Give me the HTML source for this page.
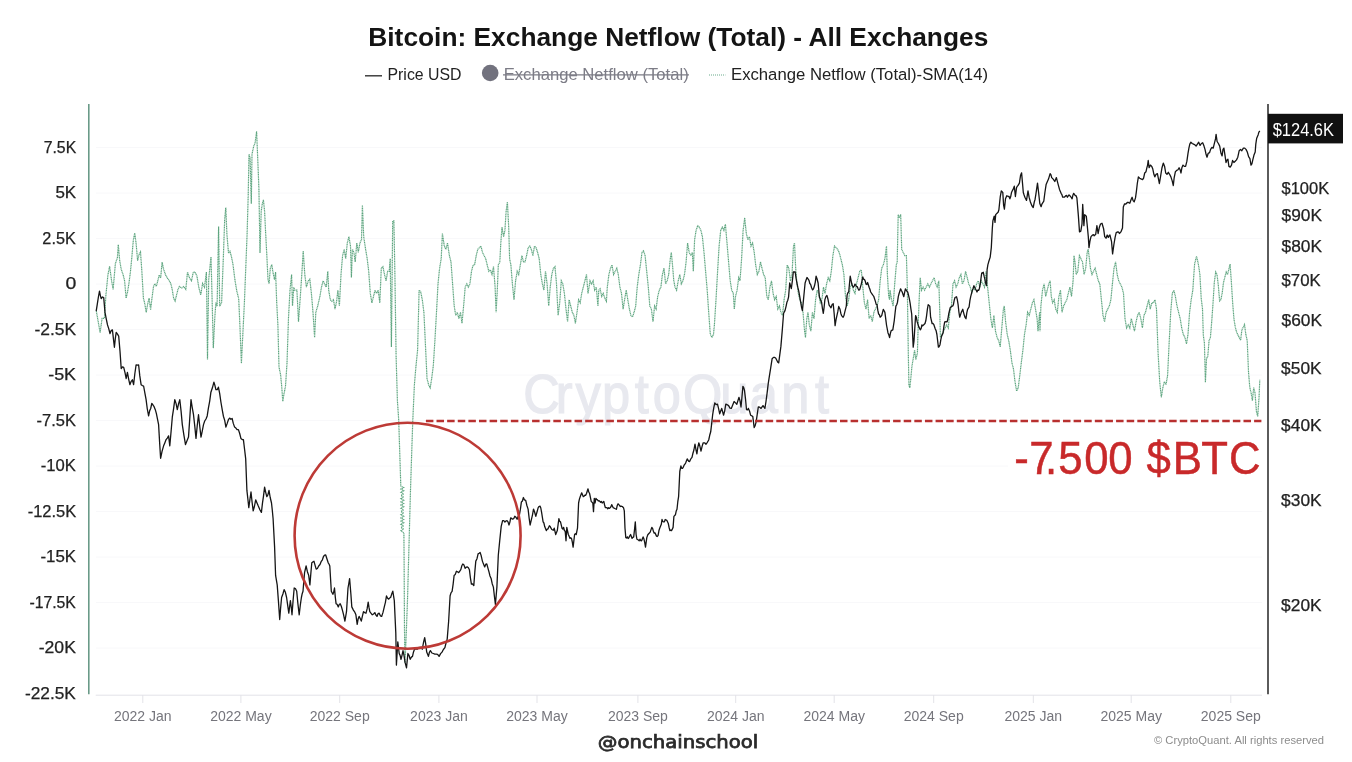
<!DOCTYPE html>
<html><head><meta charset="utf-8"><style>
html,body{margin:0;padding:0;background:#fff;width:1352px;height:762px;overflow:hidden}
svg{display:block;filter:blur(0.4px)}
text{font-family:"Liberation Sans",Arial,sans-serif}
.ax{font-size:16px;fill:#222;stroke:#222;stroke-width:0.25px}
.xl{font-size:14px;fill:#75757c}
</style></head><body>
<svg width="1352" height="762" viewBox="0 0 1352 762">
<rect width="1352" height="762" fill="#fff"/>
<text x="368.3" y="46.1" font-size="25" font-weight="bold" fill="#141414" textLength="620" lengthAdjust="spacingAndGlyphs">Bitcoin: Exchange Netflow (Total) - All Exchanges</text>
<line x1="365" y1="75.8" x2="382" y2="75.8" stroke="#333" stroke-width="1.4"/>
<text x="387.5" y="80.1" font-size="16.5" fill="#222" textLength="74" lengthAdjust="spacingAndGlyphs">Price USD</text>
<circle cx="490.2" cy="73" r="8.3" fill="#72727e"/>
<text x="503.7" y="80" font-size="16.5" fill="#7c7c86" textLength="185" lengthAdjust="spacingAndGlyphs">Exchange Netflow (Total)</text>
<line x1="503" y1="74.8" x2="689" y2="74.8" stroke="#7c7c86" stroke-width="1.2"/>
<line x1="709" y1="75" x2="725.4" y2="75" stroke="#9cc7b2" stroke-width="1.3" stroke-dasharray="1 1"/>
<text x="731" y="80.2" font-size="16.8" fill="#222" textLength="257" lengthAdjust="spacingAndGlyphs">Exchange Netflow (Total)-SMA(14)</text>
<line x1="96" y1="147.5" x2="1262" y2="147.5" stroke="#f8f8fa" stroke-width="1"/>
<line x1="96" y1="193.0" x2="1262" y2="193.0" stroke="#f8f8fa" stroke-width="1"/>
<line x1="96" y1="238.5" x2="1262" y2="238.5" stroke="#f8f8fa" stroke-width="1"/>
<line x1="96" y1="284.0" x2="1262" y2="284.0" stroke="#f8f8fa" stroke-width="1"/>
<line x1="96" y1="329.5" x2="1262" y2="329.5" stroke="#f8f8fa" stroke-width="1"/>
<line x1="96" y1="375.1" x2="1262" y2="375.1" stroke="#f8f8fa" stroke-width="1"/>
<line x1="96" y1="420.6" x2="1262" y2="420.6" stroke="#f8f8fa" stroke-width="1"/>
<line x1="96" y1="466.1" x2="1262" y2="466.1" stroke="#f8f8fa" stroke-width="1"/>
<line x1="96" y1="511.6" x2="1262" y2="511.6" stroke="#f8f8fa" stroke-width="1"/>
<line x1="96" y1="557.1" x2="1262" y2="557.1" stroke="#f8f8fa" stroke-width="1"/>
<line x1="96" y1="602.6" x2="1262" y2="602.6" stroke="#f8f8fa" stroke-width="1"/>
<line x1="96" y1="648.1" x2="1262" y2="648.1" stroke="#f8f8fa" stroke-width="1"/>

<text transform="scale(0.92,1)" x="568.84 603.96 625.52 654.28 689.82 709.54 742.29 782.95 814.95 849.07 885.91" y="413.3" font-size="55" fill="#e8e9ef" stroke="#e8e9ef" stroke-width="1.2">CryptoQuant</text>
<line x1="88.8" y1="104" x2="88.8" y2="694.3" stroke="#6a9a88" stroke-width="1.6"/>
<line x1="1268" y1="104" x2="1268" y2="694.3" stroke="#333" stroke-width="1.6"/>
<line x1="95.7" y1="695.2" x2="1262" y2="695.2" stroke="#e3e3e8" stroke-width="1"/>
<text x="43.69" y="152.7" class="ax" textLength="32.49" lengthAdjust="spacingAndGlyphs">7.5K</text>
<text x="55.42" y="198.2" class="ax" textLength="20.77" lengthAdjust="spacingAndGlyphs">5K</text>
<text x="42.38" y="243.7" class="ax" textLength="33.40" lengthAdjust="spacingAndGlyphs">2.5K</text>
<text x="65.64" y="289.2" class="ax" textLength="10.82" lengthAdjust="spacingAndGlyphs">0</text>
<text x="34.53" y="334.7" class="ax" textLength="41.67" lengthAdjust="spacingAndGlyphs">-2.5K</text>
<text x="48.20" y="380.2" class="ax" textLength="27.90" lengthAdjust="spacingAndGlyphs">-5K</text>
<text x="36.57" y="425.8" class="ax" textLength="39.32" lengthAdjust="spacingAndGlyphs">-7.5K</text>
<text x="40.76" y="471.3" class="ax" textLength="35.13" lengthAdjust="spacingAndGlyphs">-10K</text>
<text x="27.67" y="516.8" class="ax" textLength="48.52" lengthAdjust="spacingAndGlyphs">-12.5K</text>
<text x="40.45" y="562.3" class="ax" textLength="35.64" lengthAdjust="spacingAndGlyphs">-15K</text>
<text x="29.40" y="607.8" class="ax" textLength="46.48" lengthAdjust="spacingAndGlyphs">-17.5K</text>
<text x="38.72" y="653.3" class="ax" textLength="37.18" lengthAdjust="spacingAndGlyphs">-20K</text>
<text x="25.03" y="698.8" class="ax" textLength="50.86" lengthAdjust="spacingAndGlyphs">-22.5K</text>
<text x="1281.52" y="193.6" class="ax" textLength="47.66" lengthAdjust="spacingAndGlyphs">$100K</text>
<text x="1281.51" y="220.9" class="ax" textLength="40.48" lengthAdjust="spacingAndGlyphs">$90K</text>
<text x="1281.51" y="251.5" class="ax" textLength="40.48" lengthAdjust="spacingAndGlyphs">$80K</text>
<text x="1281.52" y="286.2" class="ax" textLength="39.17" lengthAdjust="spacingAndGlyphs">$70K</text>
<text x="1281.51" y="326.2" class="ax" textLength="40.48" lengthAdjust="spacingAndGlyphs">$60K</text>
<text x="1281.11" y="373.5" class="ax" textLength="40.48" lengthAdjust="spacingAndGlyphs">$50K</text>
<text x="1281.11" y="431.4" class="ax" textLength="40.48" lengthAdjust="spacingAndGlyphs">$40K</text>
<text x="1281.11" y="506.0" class="ax" textLength="40.48" lengthAdjust="spacingAndGlyphs">$30K</text>
<text x="1281.11" y="611.2" class="ax" textLength="40.48" lengthAdjust="spacingAndGlyphs">$20K</text>
<line x1="142.8" y1="695" x2="142.8" y2="703" stroke="#e3e3e8" stroke-width="1"/>
<text x="142.8" y="720.6" text-anchor="middle" class="xl">2022 Jan</text>
<line x1="240.9" y1="695" x2="240.9" y2="703" stroke="#e3e3e8" stroke-width="1"/>
<text x="240.9" y="720.6" text-anchor="middle" class="xl">2022 May</text>
<line x1="339.7" y1="695" x2="339.7" y2="703" stroke="#e3e3e8" stroke-width="1"/>
<text x="339.7" y="720.6" text-anchor="middle" class="xl">2022 Sep</text>
<line x1="438.9" y1="695" x2="438.9" y2="703" stroke="#e3e3e8" stroke-width="1"/>
<text x="438.9" y="720.6" text-anchor="middle" class="xl">2023 Jan</text>
<line x1="537" y1="695" x2="537" y2="703" stroke="#e3e3e8" stroke-width="1"/>
<text x="537" y="720.6" text-anchor="middle" class="xl">2023 May</text>
<line x1="637.9" y1="695" x2="637.9" y2="703" stroke="#e3e3e8" stroke-width="1"/>
<text x="637.9" y="720.6" text-anchor="middle" class="xl">2023 Sep</text>
<line x1="735.7" y1="695" x2="735.7" y2="703" stroke="#e3e3e8" stroke-width="1"/>
<text x="735.7" y="720.6" text-anchor="middle" class="xl">2024 Jan</text>
<line x1="834.2" y1="695" x2="834.2" y2="703" stroke="#e3e3e8" stroke-width="1"/>
<text x="834.2" y="720.6" text-anchor="middle" class="xl">2024 May</text>
<line x1="933.7" y1="695" x2="933.7" y2="703" stroke="#e3e3e8" stroke-width="1"/>
<text x="933.7" y="720.6" text-anchor="middle" class="xl">2024 Sep</text>
<line x1="1033.3" y1="695" x2="1033.3" y2="703" stroke="#e3e3e8" stroke-width="1"/>
<text x="1033.3" y="720.6" text-anchor="middle" class="xl">2025 Jan</text>
<line x1="1131.2" y1="695" x2="1131.2" y2="703" stroke="#e3e3e8" stroke-width="1"/>
<text x="1131.2" y="720.6" text-anchor="middle" class="xl">2025 May</text>
<line x1="1230.8" y1="695" x2="1230.8" y2="703" stroke="#e3e3e8" stroke-width="1"/>
<text x="1230.8" y="720.6" text-anchor="middle" class="xl">2025 Sep</text>

<path d="M96.3 311.0 L98.1 321.1 L100.1 332.7 L102.1 318.3 L104.4 318.3 L105.9 295.2 L107.9 275.0 L109.6 266.3 L111.6 280.8 L113.1 289.4 L115.4 263.5 L117.4 257.7 L118.3 244.7 L119.7 260.6 L121.2 269.2 L123.2 275.0 L124.6 280.8 L126.1 298.1 L127.5 292.3 L128.9 283.6 L130.4 272.1 L131.8 257.7 L133.3 240.4 L134.7 233.2 L136.1 243.3 L137.6 260.6 L139.0 254.8 L140.5 251.9 L141.9 272.1 L143.4 298.1 L144.8 303.8 L146.2 312.5 L147.7 303.8 L149.1 298.1 L150.6 309.6 L152.0 298.1 L153.5 286.5 L154.9 283.6 L156.3 286.5 L157.8 280.8 L159.2 275.0 L160.7 277.9 L162.1 262.0 L163.6 269.2 L165.6 275.0 L167.3 277.9 L169.3 280.8 L170.8 283.6 L172.2 289.4 L173.6 298.1 L175.1 301.0 L176.5 295.2 L178.0 289.4 L179.4 286.5 L181.7 288.0 L183.7 286.5 L185.8 289.4 L187.5 272.1 L189.5 277.9 L191.5 280.8 L193.3 272.1 L195.0 272.1 L196.9 275.9 L198.8 287.3 L200.7 294.9 L202.6 283.5 L204.5 287.3 L206.4 272.1 L207.5 359.5 L208.7 279.7 L210.2 264.5 L211.0 256.9 L212.1 298.7 L213.3 348.1 L214.8 317.7 L215.9 302.5 L217.1 306.3 L218.6 226.5 L219.7 306.3 L221.6 302.5 L223.5 253.1 L224.7 218.9 L225.8 207.5 L226.9 234.1 L228.5 253.1 L230.0 251.2 L231.5 256.9 L233.0 264.5 L234.9 279.7 L236.8 291.1 L238.7 298.7 L239.9 325.3 L241.4 363.3 L242.9 332.9 L244.4 302.5 L245.6 272.1 L247.1 234.1 L248.2 196.0 L249.0 154.2 L250.1 158.0 L251.3 203.7 L252.0 154.2 L253.6 146.6 L255.1 142.8 L256.6 131.4 L257.7 158.0 L258.9 188.4 L260.0 253.1 L261.2 211.3 L262.3 203.7 L263.4 199.8 L264.6 211.3 L265.7 234.1 L266.9 256.9 L268.0 279.7 L269.1 283.5 L270.3 268.3 L271.8 264.5 L272.9 272.1 L274.5 279.7 L275.6 272.1 L276.7 302.5 L277.9 325.3 L279.0 367.1 L280.6 374.8 L281.7 386.2 L282.8 401.4 L284.0 393.8 L285.5 386.2 L287.0 363.3 L288.5 317.7 L290.0 290.2 L291.6 274.5 L292.5 306.0 L293.8 287.1 L294.7 290.2 L296.9 290.2 L298.5 321.7 L300.1 299.7 L302.0 271.3 L303.2 250.9 L304.8 274.5 L306.4 287.1 L308.3 280.8 L309.8 279.2 L311.4 293.4 L313.0 312.3 L314.6 337.5 L315.8 312.3 L317.7 306.0 L319.9 296.5 L321.5 287.1 L323.1 280.8 L324.6 283.9 L326.2 287.1 L327.8 271.3 L328.7 290.2 L330.3 299.7 L331.9 301.3 L333.5 299.7 L335.0 309.1 L336.6 301.3 L337.9 290.2 L339.4 306.0 L341.0 274.5 L342.6 255.6 L344.2 249.3 L345.7 258.7 L347.3 243.0 L348.9 236.7 L350.5 246.1 L351.4 277.6 L352.4 249.3 L353.9 252.4 L355.2 261.9 L356.8 243.0 L358.3 252.4 L359.9 243.0 L361.5 239.8 L362.4 205.2 L363.7 236.7 L365.6 249.3 L367.2 258.7 L368.7 271.3 L370.3 293.4 L371.9 302.8 L373.5 296.5 L375.0 290.2 L376.6 293.4 L378.2 290.2 L379.8 302.8 L381.3 268.2 L382.9 266.6 L384.5 274.5 L386.1 280.8 L387.6 271.3 L389.2 271.3 L390.2 258.7 L391.4 346.9 L392.7 220.9 L393.9 220.9 L394.9 274.5 L396.1 356.4 L397.4 400.5 L398.7 420.0 L400.3 470.0 L400.8 486.0 L403.7 487.5 L400.9 489.1 L403.7 490.7 L400.9 492.3 L403.7 493.9 L400.9 495.5 L403.7 497.1 L400.9 498.7 L403.7 500.3 L400.9 501.9 L403.7 503.5 L400.9 505.1 L403.7 506.7 L400.9 508.3 L403.7 509.9 L400.9 511.5 L403.7 513.1 L400.9 514.7 L403.7 516.3 L400.9 517.9 L403.7 519.5 L400.9 521.1 L403.7 522.7 L400.9 524.3 L403.7 525.9 L400.9 527.5 L403.7 529.1 L400.9 530.7 L403.9 533.0 L404.1 560.0 L404.5 630.0 L405.0 663.0 L406.0 640.0 L407.5 600.0 L409.0 545.0 L410.5 490.0 L411.8 450.0 L412.8 420.0 L414.4 384.7 L416.0 365.8 L417.6 350.1 L419.1 290.2 L420.7 291.8 L422.3 299.7 L423.9 312.3 L425.4 343.8 L427.0 378.4 L428.6 384.7 L430.2 387.9 L431.7 378.4 L433.3 365.8 L434.9 340.6 L436.5 312.3 L438.0 283.9 L439.6 268.2 L441.2 258.7 L442.4 233.5 L444.3 246.1 L445.9 249.3 L447.5 243.0 L449.4 255.6 L451.0 261.9 L452.6 283.9 L454.2 306.0 L455.7 315.4 L457.3 312.3 L458.9 318.6 L460.5 312.3 L462.0 323.3 L463.6 306.0 L465.2 287.1 L466.8 283.9 L468.3 287.1 L469.9 283.9 L471.5 271.3 L473.1 265.0 L474.6 265.0 L476.2 255.6 L477.8 249.3 L479.4 247.7 L480.9 246.1 L482.5 252.4 L484.1 255.6 L485.7 258.7 L487.2 265.0 L488.8 271.3 L490.4 269.8 L492.0 274.5 L493.5 266.6 L495.1 287.1 L496.1 312.3 L497.3 290.2 L498.3 265.0 L499.8 261.9 L500.8 243.0 L502.0 227.2 L503.6 236.7 L504.9 230.4 L506.1 211.5 L507.4 202.0 L508.7 227.2 L509.6 258.7 L510.9 265.0 L512.4 283.9 L514.0 299.7 L515.6 280.8 L517.2 271.3 L518.7 274.5 L520.3 265.0 L521.9 255.6 L523.5 261.9 L525.0 261.9 L526.6 255.6 L528.2 247.7 L529.8 246.1 L531.3 249.3 L532.9 255.6 L534.5 246.1 L536.1 247.7 L537.6 252.4 L539.2 258.7 L540.8 274.5 L542.4 283.9 L543.9 290.2 L545.5 271.3 L547.1 283.9 L548.7 306.0 L550.2 287.1 L551.8 274.5 L553.4 268.2 L555.0 266.6 L556.5 283.9 L558.1 315.4 L559.7 302.8 L561.3 280.8 L562.8 283.9 L564.4 293.4 L566.0 309.1 L567.6 321.7 L569.1 299.7 L570.7 306.0 L572.3 312.3 L573.9 315.4 L575.4 323.3 L577.0 312.3 L578.6 299.7 L580.2 302.8 L581.7 293.4 L583.3 287.1 L584.9 280.8 L586.5 274.5 L588.0 293.4 L589.6 283.9 L590.0 280.8 L591.6 283.9 L593.1 280.8 L594.7 290.2 L596.3 287.1 L597.9 306.0 L598.8 290.2 L600.1 288.7 L601.7 296.5 L603.2 293.4 L604.8 298.1 L606.4 301.3 L607.3 287.1 L608.9 274.5 L610.5 268.2 L612.0 265.0 L613.6 274.5 L615.2 271.3 L616.8 268.2 L618.3 274.5 L619.9 287.1 L621.5 293.4 L623.1 309.1 L624.6 299.7 L626.2 290.2 L627.8 299.7 L629.4 309.1 L630.9 315.4 L632.5 317.0 L634.1 312.3 L635.7 306.0 L637.2 287.1 L638.8 274.5 L640.4 265.0 L642.0 252.4 L643.5 250.9 L645.1 255.6 L646.7 271.3 L648.3 287.1 L649.8 306.0 L651.4 309.1 L653.0 321.7 L654.6 306.0 L656.1 309.1 L657.7 296.5 L659.3 290.2 L660.9 287.1 L662.4 274.5 L664.0 268.2 L665.6 283.9 L667.2 280.8 L668.7 274.5 L670.3 258.7 L671.3 252.4 L672.5 265.0 L673.8 280.8 L675.0 287.1 L676.6 290.2 L678.2 280.8 L679.8 274.5 L681.3 283.9 L682.9 280.8 L684.5 274.5 L686.1 261.9 L687.6 243.0 L689.2 252.4 L690.8 255.6 L692.4 252.4 L693.3 271.3 L694.6 239.8 L696.1 230.4 L697.7 225.7 L699.3 227.2 L700.9 230.4 L702.4 236.7 L704.0 252.4 L705.6 271.3 L707.2 290.2 L708.7 312.3 L710.3 334.3 L711.9 337.5 L713.5 334.3 L714.4 324.9 L716.0 299.7 L717.6 271.3 L719.1 246.1 L720.7 230.4 L722.3 227.2 L723.9 230.4 L725.4 224.1 L727.0 243.0 L728.6 261.9 L730.2 280.8 L731.7 290.2 L733.3 293.4 L734.3 309.1 L735.5 296.5 L737.1 290.2 L738.7 277.6 L740.0 280.8 L741.6 258.7 L743.1 230.4 L744.7 217.8 L746.3 233.5 L747.9 239.8 L749.4 236.7 L751.0 246.1 L752.6 243.0 L754.2 252.4 L755.7 265.0 L757.3 274.5 L758.9 271.3 L760.5 261.9 L762.0 268.2 L763.6 274.5 L765.2 277.6 L766.8 296.5 L768.3 299.7 L769.9 287.1 L771.5 280.8 L773.1 293.4 L774.6 299.7 L776.2 296.5 L777.8 309.1 L779.4 306.0 L780.9 312.3 L782.5 315.4 L784.1 299.7 L785.7 290.2 L787.2 265.0 L788.8 268.2 L790.4 280.8 L792.0 274.5 L793.5 246.1 L794.5 243.0 L795.7 268.2 L796.7 280.8 L798.3 293.4 L799.8 299.7 L801.4 302.8 L803.0 312.3 L804.6 331.2 L805.5 337.5 L806.8 318.6 L808.0 312.3 L809.3 324.9 L810.9 331.2 L812.4 312.3 L814.0 318.6 L815.6 299.7 L817.2 290.2 L818.7 293.4 L820.3 302.8 L821.9 299.7 L823.5 287.1 L825.0 293.4 L826.6 283.9 L828.2 277.6 L829.8 280.8 L831.3 271.3 L832.9 255.6 L834.5 246.1 L836.1 247.7 L837.6 249.3 L839.2 252.4 L840.8 258.7 L842.4 265.0 L843.9 274.5 L845.5 296.5 L847.1 306.0 L848.7 299.7 L850.2 287.1 L851.8 283.9 L853.4 290.2 L855.0 293.4 L856.5 283.9 L858.1 277.6 L859.7 271.3 L861.3 269.8 L862.8 287.1 L864.4 302.8 L866.0 309.1 L867.6 299.7 L869.1 318.6 L870.7 315.4 L872.3 321.7 L873.9 312.3 L875.4 309.1 L877.0 306.0 L878.6 299.7 L880.2 280.8 L881.7 268.2 L883.3 265.0 L884.9 258.7 L886.5 246.1 L887.4 274.5 L888.7 296.5 L889.6 299.7 L890.0 290.2 L891.6 299.7 L893.1 306.0 L894.7 283.9 L896.3 265.0 L897.2 261.9 L898.2 214.6 L899.4 217.8 L900.7 214.6 L901.7 249.3 L903.2 252.4 L904.8 255.6 L906.4 255.6 L907.3 287.1 L908.3 353.2 L908.9 384.7 L909.8 387.9 L910.8 378.4 L912.0 365.8 L913.6 356.4 L914.6 350.1 L915.8 359.5 L917.4 353.2 L918.3 321.7 L919.3 296.5 L920.2 277.6 L921.5 290.2 L923.1 287.1 L924.6 290.2 L926.2 287.1 L927.8 283.9 L929.4 287.1 L930.9 283.9 L932.5 280.8 L934.1 277.6 L935.7 283.9 L937.2 287.1 L938.8 280.8 L939.8 312.3 L940.4 337.5 L942.0 334.3 L943.5 331.2 L945.1 328.0 L946.7 324.9 L948.3 328.0 L949.8 312.3 L951.4 306.0 L953.0 283.9 L954.6 280.8 L956.1 287.1 L957.7 283.9 L959.3 277.6 L960.9 274.5 L962.4 283.9 L964.0 280.8 L965.6 271.3 L967.2 277.6 L968.7 283.9 L970.3 287.1 L971.9 293.4 L973.5 287.1 L975.0 290.2 L976.6 283.9 L978.2 280.8 L979.8 287.1 L981.3 280.8 L982.9 283.9 L984.5 287.1 L986.1 271.3 L987.6 287.1 L989.2 302.8 L990.8 318.6 L992.4 328.0 L993.9 315.4 L995.5 331.2 L997.1 337.5 L998.7 340.6 L1000.2 346.9 L1001.8 328.0 L1003.4 309.1 L1004.3 306.0 L1005.6 321.7 L1007.2 334.3 L1008.7 340.6 L1010.3 350.1 L1011.9 362.7 L1013.5 369.0 L1015.0 381.6 L1016.6 391.0 L1018.2 387.9 L1019.8 375.3 L1021.3 362.7 L1022.9 350.1 L1024.5 334.3 L1026.1 324.9 L1027.6 312.3 L1029.2 315.4 L1030.8 309.1 L1032.4 302.8 L1033.9 299.7 L1035.5 309.1 L1037.1 318.6 L1038.0 331.2 L1039.6 312.3 L1040.0 331.2 L1040.9 306.0 L1042.5 290.2 L1044.1 283.9 L1045.7 296.5 L1047.2 290.2 L1048.8 283.9 L1050.1 280.8 L1051.3 296.5 L1052.6 302.8 L1054.2 299.7 L1055.7 309.1 L1057.3 312.3 L1058.9 296.5 L1060.5 290.2 L1062.0 312.3 L1063.6 306.0 L1065.2 302.8 L1066.8 299.7 L1068.3 293.4 L1069.9 287.1 L1071.5 296.5 L1073.1 280.8 L1074.0 255.6 L1075.0 261.9 L1076.2 274.5 L1077.8 271.3 L1079.4 255.6 L1080.9 258.7 L1082.5 261.9 L1084.1 274.5 L1085.7 268.2 L1087.2 252.4 L1088.2 249.3 L1089.4 258.7 L1090.4 268.2 L1092.0 274.5 L1093.5 271.3 L1095.1 268.2 L1096.7 274.5 L1098.3 280.8 L1099.8 283.9 L1101.4 299.7 L1103.0 315.4 L1104.6 321.7 L1106.1 312.3 L1107.7 309.1 L1109.3 306.0 L1110.9 299.7 L1112.4 283.9 L1114.0 268.2 L1115.6 261.9 L1117.2 274.5 L1118.7 280.8 L1120.3 283.9 L1121.9 287.1 L1123.5 293.4 L1125.0 318.6 L1126.6 328.0 L1128.2 324.9 L1129.8 328.0 L1131.3 318.6 L1132.9 324.9 L1134.5 331.2 L1136.1 321.7 L1137.6 315.4 L1139.2 312.3 L1140.8 318.6 L1142.4 328.0 L1143.9 315.4 L1145.5 312.3 L1147.1 306.0 L1148.7 299.7 L1150.2 309.1 L1151.8 302.8 L1153.4 302.8 L1155.0 299.7 L1156.5 309.1 L1158.1 353.2 L1159.7 381.6 L1161.3 397.3 L1162.8 387.9 L1164.4 381.6 L1166.0 384.7 L1167.6 375.3 L1169.1 343.8 L1170.7 312.3 L1172.3 293.4 L1173.9 290.2 L1175.4 296.5 L1177.0 306.0 L1178.6 312.3 L1180.2 318.6 L1181.7 328.0 L1183.3 334.3 L1184.9 337.5 L1186.5 343.8 L1188.0 334.3 L1189.6 312.3 L1191.2 299.7 L1192.8 290.2 L1194.3 268.2 L1194.6 264.1 L1196.5 256.3 L1197.8 261.5 L1198.8 266.8 L1199.9 274.6 L1201.2 298.3 L1202.5 308.8 L1203.3 335.0 L1204.4 342.9 L1205.4 382.3 L1206.5 358.7 L1207.8 356.1 L1209.1 340.3 L1210.4 337.7 L1211.7 321.9 L1213.0 303.5 L1214.3 282.5 L1215.7 272.0 L1217.0 274.6 L1218.3 285.1 L1219.6 300.9 L1220.9 299.6 L1222.2 293.0 L1223.5 282.5 L1224.8 277.3 L1226.2 272.0 L1227.5 274.6 L1228.8 269.4 L1230.1 264.1 L1231.4 282.5 L1232.7 303.5 L1234.0 319.3 L1235.3 327.2 L1236.7 332.4 L1238.0 335.0 L1239.3 337.7 L1240.6 340.3 L1241.9 329.8 L1243.2 327.2 L1244.5 324.5 L1245.9 335.0 L1247.2 340.3 L1248.5 371.8 L1249.8 387.6 L1251.1 392.8 L1252.4 400.7 L1253.7 387.6 L1255.0 392.8 L1256.4 411.2 L1257.7 416.4 L1259.0 398.1 L1259.8 379.7" fill="none" stroke="#5da57f" stroke-width="1.2" stroke-dasharray="1.2 0.5"/>
<path d="M96.2 311.2 L97.3 304.1 L98.4 297.0 L99.5 291.2 L100.3 295.3 L101.2 298.7 L102.5 297.0 L103.7 297.5 L105.0 312.4 L106.2 318.7 L107.5 324.9 L108.8 328.9 L110.0 333.6 L111.2 330.6 L112.4 329.9 L113.4 338.6 L114.4 347.3 L115.3 338.6 L116.2 332.4 L117.5 334.1 L118.7 336.1 L120.0 351.2 L121.2 368.5 L122.5 366.8 L123.7 367.3 L125.0 372.7 L126.2 378.5 L127.4 372.3 L128.7 379.3 L129.9 384.7 L131.2 381.3 L132.4 379.8 L133.6 384.7 L134.8 374.0 L136.1 364.8 L137.3 365.1 L138.6 364.8 L139.8 375.9 L141.1 384.7 L142.3 385.6 L143.6 386.0 L144.8 392.6 L146.1 399.7 L147.3 409.0 L148.6 415.9 L149.7 410.6 L150.7 408.5 L151.8 403.4 L153.0 405.0 L154.1 406.7 L155.3 409.7 L156.4 413.7 L157.5 419.1 L158.6 424.6 L159.6 442.3 L160.6 458.3 L162.1 451.2 L163.6 445.8 L164.8 442.9 L166.1 439.6 L167.3 438.1 L168.6 435.9 L169.8 445.8 L171.1 431.2 L172.3 417.2 L173.6 408.6 L174.8 399.7 L176.1 403.6 L177.3 409.7 L178.6 403.6 L179.8 399.7 L181.1 411.4 L182.3 424.6 L183.9 435.1 L185.5 444.6 L187.0 440.7 L188.5 437.1 L189.8 417.9 L191.0 399.7 L192.2 407.4 L193.5 414.7 L194.8 426.4 L196.0 438.4 L197.2 426.0 L198.5 414.7 L199.8 426.7 L201.0 437.1 L202.2 431.4 L203.5 424.6 L204.7 421.0 L206.0 419.0 L207.2 415.9 L208.4 408.1 L209.7 401.1 L210.9 392.2 L212.4 387.8 L213.9 382.2 L214.9 385.4 L215.9 389.7 L217.2 389.7 L218.4 387.2 L219.7 393.7 L220.9 402.0 L222.2 409.7 L223.4 416.2 L224.7 420.4 L225.9 427.1 L227.2 423.4 L228.4 419.7 L229.6 418.1 L230.9 419.3 L232.1 418.4 L233.3 423.4 L234.6 427.1 L235.9 428.1 L237.1 429.7 L238.4 429.6 L239.7 433.5 L240.9 438.4 L242.2 439.5 L243.4 439.6 L244.6 449.5 L245.7 458.9 L246.9 490.4 L247.9 499.3 L248.8 507.7 L249.9 499.7 L251.0 492.0 L252.1 502.3 L253.2 510.9 L254.4 506.5 L255.7 499.8 L257.0 502.9 L258.3 506.1 L259.9 509.7 L261.4 512.4 L262.5 502.9 L263.5 496.1 L264.6 487.2 L265.7 492.3 L266.8 496.7 L267.9 494.8 L269.0 490.4 L270.2 497.5 L271.5 503.0 L272.3 510.3 L273.1 518.7 L274.6 547.1 L275.6 575.4 L277.2 584.9 L278.4 600.6 L279.7 619.5 L280.6 608.2 L281.6 597.5 L282.9 594.0 L284.1 589.6 L285.4 592.3 L286.6 597.5 L287.7 605.3 L288.8 613.2 L290.4 600.6 L291.2 606.8 L292.0 614.8 L293.1 600.4 L294.2 588.0 L295.4 588.5 L296.7 591.2 L297.9 603.7 L299.2 614.8 L300.3 605.2 L301.4 597.5 L302.2 593.7 L303.0 591.2 L303.8 581.5 L304.6 572.3 L306.1 566.0 L307.4 571.7 L308.7 575.4 L309.9 584.9 L310.9 572.8 L311.8 562.8 L312.9 561.9 L314.0 561.3 L315.1 565.3 L316.2 569.1 L317.4 568.5 L318.7 566.0 L320.0 564.5 L321.3 561.3 L322.4 559.8 L323.5 556.5 L324.6 555.2 L325.7 555.0 L326.9 558.7 L328.2 562.8 L329.0 564.0 L329.8 566.0 L331.3 591.2 L332.9 594.3 L333.7 592.1 L334.5 588.0 L335.3 597.1 L336.1 603.8 L337.2 604.4 L338.3 606.9 L339.2 604.5 L340.2 603.8 L341.3 606.3 L342.4 610.1 L343.6 614.9 L344.9 621.1 L345.7 616.4 L346.5 611.7 L348.0 588.0 L348.8 583.5 L349.6 578.6 L350.9 594.3 L351.8 606.9 L353.4 610.1 L354.6 611.8 L355.9 614.8 L357.2 624.3 L358.1 619.1 L359.1 616.4 L360.2 618.5 L361.3 621.1 L362.4 616.1 L363.5 611.7 L364.8 612.6 L366.0 613.2 L367.1 608.9 L368.2 602.2 L369.0 607.4 L369.8 611.7 L371.1 613.3 L372.3 614.8 L373.6 614.0 L374.8 612.6 L375.9 615.0 L377.0 616.4 L378.1 613.6 L379.2 613.2 L380.4 615.8 L381.7 616.4 L383.0 612.4 L384.3 606.9 L385.4 602.4 L386.5 595.9 L387.6 598.3 L388.7 599.1 L389.6 598.0 L390.6 597.5 L391.7 594.1 L392.8 591.2 L394.3 600.6 L395.8 633.3 L396.4 665.1 L397.8 641.9 L399.2 653.5 L400.1 655.4 L401.0 659.3 L402.0 655.3 L403.0 650.6 L404.0 655.3 L405.0 662.2 L406.5 667.9 L407.9 653.5 L409.0 655.3 L410.2 659.3 L411.4 657.1 L412.5 656.4 L413.5 651.9 L414.5 649.2 L415.9 648.8 L417.4 649.2 L418.9 647.3 L420.3 647.7 L421.3 647.2 L422.3 649.2 L423.5 642.5 L424.7 637.6 L425.7 643.8 L426.7 652.1 L427.5 653.9 L428.4 656.4 L429.4 652.3 L430.4 650.6 L431.9 653.0 L433.3 653.5 L434.8 654.1 L436.2 654.1 L437.6 654.3 L439.1 656.4 L440.6 653.6 L442.0 652.1 L443.4 649.5 L444.9 647.7 L446.0 643.0 L447.2 639.1 L448.6 621.7 L450.1 595.7 L451.1 592.6 L452.1 591.4 L453.1 584.4 L454.1 575.5 L455.2 574.6 L456.4 571.2 L457.5 571.8 L458.7 572.6 L459.8 571.1 L460.8 569.7 L461.8 565.8 L462.8 564.0 L464.0 565.1 L465.1 568.3 L466.2 567.2 L467.4 566.9 L468.4 567.7 L469.4 569.7 L470.4 577.8 L471.4 584.2 L472.6 584.0 L473.8 585.6 L474.8 572.1 L475.8 561.1 L477.0 558.7 L478.1 553.9 L479.1 553.2 L480.1 552.4 L481.2 555.8 L482.4 561.1 L483.5 564.1 L484.7 566.9 L485.8 564.2 L486.8 564.0 L487.8 567.7 L488.8 571.2 L490.0 576.0 L491.1 578.4 L492.2 583.7 L493.4 587.1 L494.4 596.3 L495.4 604.4 L496.9 587.1 L498.3 555.3 L499.7 540.9 L501.2 526.4 L502.6 520.6 L503.8 520.7 L504.9 522.1 L505.9 521.0 L507.0 520.6 L508.0 521.9 L509.0 525.0 L509.9 522.1 L510.7 517.8 L511.7 518.6 L512.7 519.2 L513.8 518.5 L514.8 516.3 L516.0 517.3 L517.1 519.2 L518.2 516.3 L519.4 514.9 L520.4 509.2 L521.4 501.9 L522.4 501.0 L523.4 497.5 L524.5 499.9 L525.7 500.4 L526.9 505.5 L528.1 509.1 L529.1 517.9 L530.1 525.0 L531.5 519.2 L532.5 514.8 L533.5 509.1 L534.6 512.0 L535.8 516.3 L537.0 512.0 L538.2 507.7 L539.1 506.5 L540.0 506.1 L540.8 508.0 L541.6 512.4 L543.1 521.9 L543.9 523.0 L544.7 526.6 L546.3 530.6 L547.1 529.2 L547.9 529.0 L549.4 525.8 L550.2 526.4 L551.0 528.2 L551.8 529.5 L552.6 529.8 L553.4 530.2 L554.2 528.2 L555.7 534.5 L557.3 530.6 L558.1 524.5 L558.9 518.7 L559.7 521.4 L560.5 521.9 L562.0 528.2 L562.8 529.1 L563.6 527.4 L564.4 530.5 L565.2 531.3 L566.0 540.8 L566.8 527.4 L568.3 534.5 L569.1 536.1 L569.9 538.4 L570.7 537.7 L571.5 538.4 L572.3 542.0 L573.1 547.1 L574.6 534.5 L575.4 533.7 L576.2 534.5 L577.5 528.2 L578.6 503.0 L579.4 499.1 L580.2 496.7 L581.7 492.8 L583.3 496.7 L584.1 496.2 L584.9 495.1 L585.7 495.3 L586.5 493.5 L588.0 488.8 L588.8 492.0 L589.6 493.5 L590.4 497.4 L591.2 501.4 L592.8 503.0 L593.5 511.7 L594.3 498.3 L595.1 503.0 L595.9 498.3 L596.7 499.4 L597.5 499.8 L598.3 501.0 L599.1 500.6 L600.6 502.2 L601.4 501.5 L602.2 503.0 L603.8 501.4 L604.6 505.0 L605.4 507.7 L606.9 507.7 L607.7 508.8 L608.5 507.7 L609.3 508.4 L610.1 507.7 L610.9 506.8 L611.7 504.6 L613.2 507.7 L614.8 508.5 L615.6 508.8 L616.4 509.3 L617.2 505.7 L618.0 503.8 L619.5 505.4 L620.3 506.5 L621.1 506.1 L622.3 506.5 L623.5 507.7 L624.3 510.9 L625.0 528.2 L625.8 537.6 L626.6 538.0 L627.4 536.9 L628.2 538.5 L629.0 537.6 L629.8 535.8 L630.6 534.5 L632.1 538.4 L632.9 537.4 L633.7 536.9 L634.5 529.8 L635.3 521.9 L636.1 534.5 L636.9 539.2 L638.4 540.0 L639.2 540.8 L640.0 539.2 L640.8 540.6 L641.6 540.8 L643.1 536.9 L643.9 538.8 L644.7 542.4 L645.5 547.1 L646.8 537.6 L647.8 534.7 L648.7 533.7 L650.2 532.1 L651.8 527.4 L652.6 528.4 L653.4 531.3 L654.2 533.2 L655.0 532.9 L656.5 536.1 L657.3 536.5 L658.1 535.3 L658.9 530.8 L659.7 528.2 L661.3 524.3 L662.0 519.5 L662.8 521.5 L663.6 521.9 L664.4 521.9 L665.2 519.5 L666.8 520.3 L668.3 523.5 L669.1 527.5 L669.9 530.6 L670.7 530.2 L671.5 530.6 L672.3 529.1 L673.1 527.4 L673.9 516.4 L675.4 514.8 L676.2 511.1 L677.0 509.3 L677.8 501.7 L678.6 496.7 L679.8 471.5 L680.9 466.0 L681.7 468.4 L682.5 468.3 L683.3 467.1 L684.1 465.2 L684.9 464.1 L685.7 462.8 L687.2 458.9 L688.8 461.3 L689.6 461.6 L690.4 459.7 L691.2 458.3 L692.0 457.3 L692.8 453.8 L693.9 450.0 L695.0 444.2 L696.0 449.8 L696.9 453.8 L697.8 447.5 L698.8 442.8 L699.9 446.3 L701.0 451.0 L702.1 446.4 L703.2 442.8 L704.6 442.8 L706.0 444.2 L707.4 442.3 L708.7 440.0 L709.7 435.3 L710.7 431.8 L711.7 423.3 L712.6 415.2 L713.7 408.1 L714.8 402.9 L716.1 404.6 L717.5 404.2 L718.6 408.7 L719.7 413.9 L720.7 411.0 L721.7 408.4 L722.7 412.0 L723.6 415.2 L724.7 410.8 L725.8 404.2 L727.2 404.7 L728.6 405.6 L730.0 408.1 L731.3 408.4 L732.7 405.0 L734.1 401.5 L735.5 402.9 L736.8 404.2 L737.9 400.8 L739.0 397.3 L740.0 400.9 L741.0 407.0 L742.0 396.5 L742.9 386.3 L743.7 387.6 L744.5 390.5 L745.5 398.8 L746.5 409.7 L747.5 409.8 L748.4 408.4 L749.5 410.9 L750.6 415.2 L751.7 415.8 L752.8 416.6 L754.2 427.6 L755.2 425.4 L756.1 422.1 L757.2 414.7 L758.3 407.0 L759.7 407.2 L761.1 408.4 L762.0 407.0 L763.0 405.6 L764.0 407.1 L764.9 408.4 L766.0 401.5 L767.1 393.2 L768.2 383.9 L769.3 376.7 L770.7 367.9 L772.1 358.8 L773.5 357.4 L774.8 357.4 L775.8 358.2 L776.8 360.2 L777.8 362.3 L778.7 362.9 L779.8 354.7 L780.9 346.4 L782.3 329.9 L783.6 313.3 L785.0 310.6 L786.0 306.6 L786.9 302.3 L787.8 300.2 L788.6 296.8 L789.7 283.0 L791.3 288.6 L792.3 281.4 L793.3 272.0 L794.2 271.9 L795.2 272.0 L796.0 277.8 L796.9 283.0 L797.8 287.2 L798.8 291.3 L799.8 296.8 L800.7 302.3 L801.5 307.0 L802.4 310.6 L803.5 299.6 L804.3 291.2 L805.1 283.0 L806.0 280.3 L807.0 277.5 L808.0 278.8 L809.0 280.3 L809.8 283.5 L810.6 284.4 L811.6 287.7 L812.6 289.9 L813.5 288.8 L814.5 285.8 L815.3 282.1 L816.1 276.2 L817.1 279.0 L818.1 283.0 L819.4 296.8 L820.5 299.7 L821.6 302.3 L822.5 309.0 L823.3 313.3 L824.1 307.3 L824.9 299.6 L825.9 296.6 L826.9 295.4 L828.0 299.3 L829.1 305.1 L830.0 306.3 L831.0 307.8 L832.1 304.6 L833.2 303.7 L834.2 314.0 L835.1 325.7 L836.0 319.8 L836.8 316.1 L837.8 311.7 L838.7 306.5 L840.0 309.3 L840.8 313.2 L841.6 315.6 L843.1 317.2 L843.9 315.8 L844.7 312.4 L846.3 306.1 L847.1 295.1 L847.9 292.7 L848.7 292.0 L850.2 276.2 L851.8 284.1 L852.6 286.2 L853.4 287.2 L854.2 286.1 L855.0 284.1 L856.5 286.5 L857.3 286.7 L858.1 288.8 L858.9 290.2 L859.7 289.6 L861.3 284.1 L862.8 277.0 L863.6 279.4 L864.4 279.4 L865.2 281.0 L866.0 284.1 L866.8 284.5 L867.6 282.5 L869.1 287.2 L869.9 289.3 L870.7 292.0 L872.3 294.3 L873.1 295.5 L873.9 296.7 L875.4 301.4 L876.2 304.3 L877.0 304.6 L877.8 310.2 L878.6 314.0 L879.4 314.7 L880.2 317.2 L881.7 315.6 L883.3 309.3 L884.1 310.7 L884.9 312.4 L885.7 318.7 L886.5 325.0 L888.0 332.9 L888.8 334.8 L889.6 337.6 L890.4 333.3 L891.2 330.6 L892.8 329.8 L894.3 320.3 L895.1 312.7 L895.9 306.1 L896.7 304.7 L897.5 302.2 L898.3 296.6 L899.1 293.5 L900.6 288.8 L901.4 290.5 L902.2 292.0 L903.8 296.7 L904.6 292.6 L905.4 288.8 L906.9 291.2 L907.7 291.9 L908.5 295.1 L909.3 298.6 L910.1 303.0 L910.9 308.8 L911.7 314.0 L913.2 347.1 L914.0 340.8 L914.8 328.2 L915.6 315.6 L916.4 317.6 L917.2 321.9 L918.7 326.6 L920.3 329.8 L921.1 328.7 L921.9 325.0 L922.7 325.7 L923.5 325.0 L925.0 323.5 L925.8 320.8 L926.6 315.6 L927.4 309.1 L928.2 304.6 L929.8 306.1 L930.6 317.2 L932.1 323.5 L932.9 323.3 L933.7 324.3 L935.3 329.0 L936.1 330.6 L936.9 334.5 L938.4 347.1 L939.2 346.6 L940.0 344.7 L940.8 339.8 L941.6 336.1 L943.1 332.9 L943.9 326.4 L944.7 321.9 L945.9 321.7 L947.1 321.9 L947.9 319.0 L948.7 314.0 L950.2 307.7 L951.8 306.1 L952.6 306.2 L953.4 304.6 L954.2 300.4 L955.0 297.5 L956.5 296.7 L957.3 299.7 L958.1 304.6 L958.9 312.0 L959.7 317.2 L961.3 312.4 L962.8 309.3 L963.6 312.6 L964.4 315.6 L965.2 317.7 L966.0 318.7 L966.8 312.9 L967.6 309.3 L969.1 306.9 L969.9 300.6 L970.7 296.7 L972.3 290.4 L973.1 288.5 L973.9 285.7 L975.4 288.8 L976.2 290.2 L977.0 292.0 L977.8 290.1 L978.6 290.4 L979.4 288.4 L980.2 284.1 L981.7 273.1 L983.3 272.3 L984.1 276.2 L984.9 279.4 L985.7 283.3 L986.5 285.7 L987.1 269.7 L987.9 264.7 L988.7 261.8 L990.2 257.1 L991.3 247.6 L992.3 228.7 L992.9 220.9 L994.2 216.1 L995.0 222.4 L995.7 214.6 L997.3 213.0 L998.1 212.3 L998.9 209.8 L1000.2 197.2 L1001.3 190.9 L1002.8 192.5 L1003.6 205.1 L1004.4 209.1 L1005.5 198.8 L1006.8 195.7 L1008.3 196.5 L1009.1 196.5 L1009.9 198.8 L1010.7 196.6 L1011.5 192.5 L1012.3 190.8 L1013.1 189.4 L1014.3 186.2 L1015.4 196.5 L1016.5 187.8 L1017.3 186.2 L1018.1 185.4 L1019.4 183.1 L1020.6 175.2 L1021.6 172.8 L1022.5 183.1 L1023.3 192.5 L1024.1 195.0 L1024.9 197.2 L1026.5 200.4 L1028.0 190.9 L1029.1 197.2 L1030.4 202.0 L1032.0 205.9 L1033.2 207.5 L1034.3 202.0 L1035.1 199.2 L1035.9 194.1 L1037.5 183.1 L1038.6 192.5 L1039.8 203.5 L1041.1 206.7 L1041.9 204.1 L1042.7 202.8 L1043.8 201.2 L1044.9 192.5 L1046.1 184.6 L1047.4 181.5 L1048.5 179.1 L1050.1 173.6 L1050.9 174.6 L1051.7 177.6 L1053.2 179.1 L1054.8 181.5 L1055.6 179.6 L1056.4 177.6 L1058.0 183.9 L1059.5 189.4 L1061.1 193.3 L1061.9 194.6 L1062.7 197.2 L1064.3 197.2 L1065.8 195.7 L1066.6 195.4 L1067.4 197.2 L1069.0 194.9 L1070.6 196.5 L1072.1 198.8 L1072.9 195.2 L1073.7 193.3 L1075.3 195.7 L1076.1 195.7 L1076.9 198.0 L1078.4 216.1 L1079.5 231.9 L1080.8 231.1 L1082.0 224.0 L1082.7 204.3 L1083.9 225.6 L1084.7 214.6 L1086.3 216.1 L1087.1 224.0 L1088.3 236.6 L1089.0 247.6 L1089.9 241.3 L1091.0 236.6 L1092.6 235.0 L1093.4 234.6 L1094.2 235.8 L1095.7 234.3 L1096.9 225.6 L1098.1 233.5 L1099.4 227.2 L1100.5 224.0 L1102.0 223.2 L1103.6 228.7 L1104.7 236.6 L1106.0 238.2 L1107.2 235.0 L1108.3 237.4 L1109.1 235.7 L1109.9 235.0 L1111.5 241.3 L1112.6 253.9 L1113.9 244.5 L1115.1 237.4 L1116.2 232.7 L1117.8 231.9 L1118.6 232.2 L1119.4 233.5 L1120.9 231.9 L1122.5 228.0 L1123.3 207.1 L1124.6 203.8 L1125.6 204.2 L1126.6 203.2 L1127.5 202.3 L1128.5 202.5 L1129.8 203.2 L1131.2 199.2 L1132.1 197.3 L1133.1 200.6 L1134.2 201.9 L1135.5 197.9 L1136.4 191.4 L1137.3 183.5 L1138.4 176.9 L1139.7 178.2 L1141.0 178.9 L1142.6 179.6 L1143.6 178.2 L1144.7 173.0 L1146.0 171.7 L1146.9 167.7 L1147.6 165.1 L1148.2 160.5 L1149.1 167.7 L1150.4 165.1 L1151.8 166.4 L1152.8 169.1 L1153.9 174.3 L1154.8 176.9 L1156.1 174.3 L1157.4 173.6 L1158.3 178.2 L1159.4 183.5 L1160.7 175.6 L1162.0 167.7 L1163.3 163.1 L1164.6 166.4 L1165.7 173.0 L1167.0 174.3 L1168.3 172.3 L1169.6 174.3 L1170.9 176.9 L1172.2 180.9 L1173.3 185.5 L1174.1 178.2 L1175.4 171.7 L1176.7 170.4 L1178.0 169.7 L1179.1 167.7 L1180.1 169.7 L1181.0 173.0 L1181.9 167.7 L1183.0 165.1 L1184.3 166.4 L1185.6 166.4 L1186.9 161.2 L1188.0 153.3 L1188.9 148.1 L1189.8 144.1 L1190.9 142.2 L1192.2 143.5 L1193.5 144.1 L1194.8 144.8 L1196.1 146.1 L1197.4 144.1 L1198.7 142.2 L1200.1 145.4 L1201.4 143.5 L1202.7 142.8 L1204.0 146.1 L1205.0 149.4 L1206.0 154.0 L1207.0 157.2 L1208.2 153.3 L1209.5 152.7 L1210.6 149.4 L1211.9 147.4 L1213.2 148.1 L1214.5 142.8 L1215.5 138.9 L1216.1 134.3 L1217.1 141.5 L1218.4 143.5 L1219.7 146.1 L1221.0 153.3 L1222.1 155.9 L1223.0 149.4 L1223.9 148.1 L1225.0 155.3 L1226.0 162.5 L1227.0 159.9 L1227.9 159.2 L1228.9 166.4 L1230.2 167.1 L1231.5 165.1 L1232.6 160.5 L1233.9 162.5 L1235.2 161.2 L1236.5 159.9 L1237.8 157.2 L1239.2 150.7 L1240.5 149.4 L1241.8 150.7 L1242.6 149.4 L1243.4 148.1 L1244.7 148.1 L1246.0 149.4 L1247.3 152.0 L1248.6 156.6 L1249.9 158.6 L1251.0 165.1 L1251.9 163.8 L1252.8 159.9 L1253.9 155.3 L1255.2 152.0 L1255.8 144.1 L1256.7 138.2 L1258.1 134.9 L1258.9 132.1 L1259.8 131.0" fill="none" stroke="#151515" stroke-width="1.3" stroke-linejoin="round"/>
<line x1="425.9" y1="421.1" x2="1261.4" y2="421.1" stroke="#b8302f" stroke-width="2.5" stroke-dasharray="7.5 3.118"/>
<circle cx="407.6" cy="535.7" r="113" fill="none" stroke="#bd3a36" stroke-width="2.6"/>
<rect x="1008" y="447" width="254" height="33" fill="#fff"/>
<text transform="scale(0.94,1)" x="1079.10 1095.06 1111.71 1125.80 1153.50 1179.03 1204.90 1219.71 1247.57 1278.00 1307.43" y="474.2" font-size="46.5" fill="#c8292a" stroke="#c8292a" stroke-width="0.5">-7.500 $BTC</text>
<rect x="1268" y="113.8" width="75" height="29.6" fill="#111"/>
<text x="1272.7" y="136" font-size="17.5" fill="#fff" textLength="61.3" lengthAdjust="spacingAndGlyphs">$124.6K</text>
<text x="597.8" y="747.8" font-size="18" fill="#2a2a2a" stroke="#2a2a2a" stroke-width="0.75" style="font-family:'DejaVu Sans',sans-serif" textLength="160.5" lengthAdjust="spacingAndGlyphs">@onchainschool</text>
<text x="1154" y="743.9" font-size="11.6" fill="#8c8c8c" textLength="170" lengthAdjust="spacingAndGlyphs">© CryptoQuant. All rights reserved</text>
</svg>
</body></html>
